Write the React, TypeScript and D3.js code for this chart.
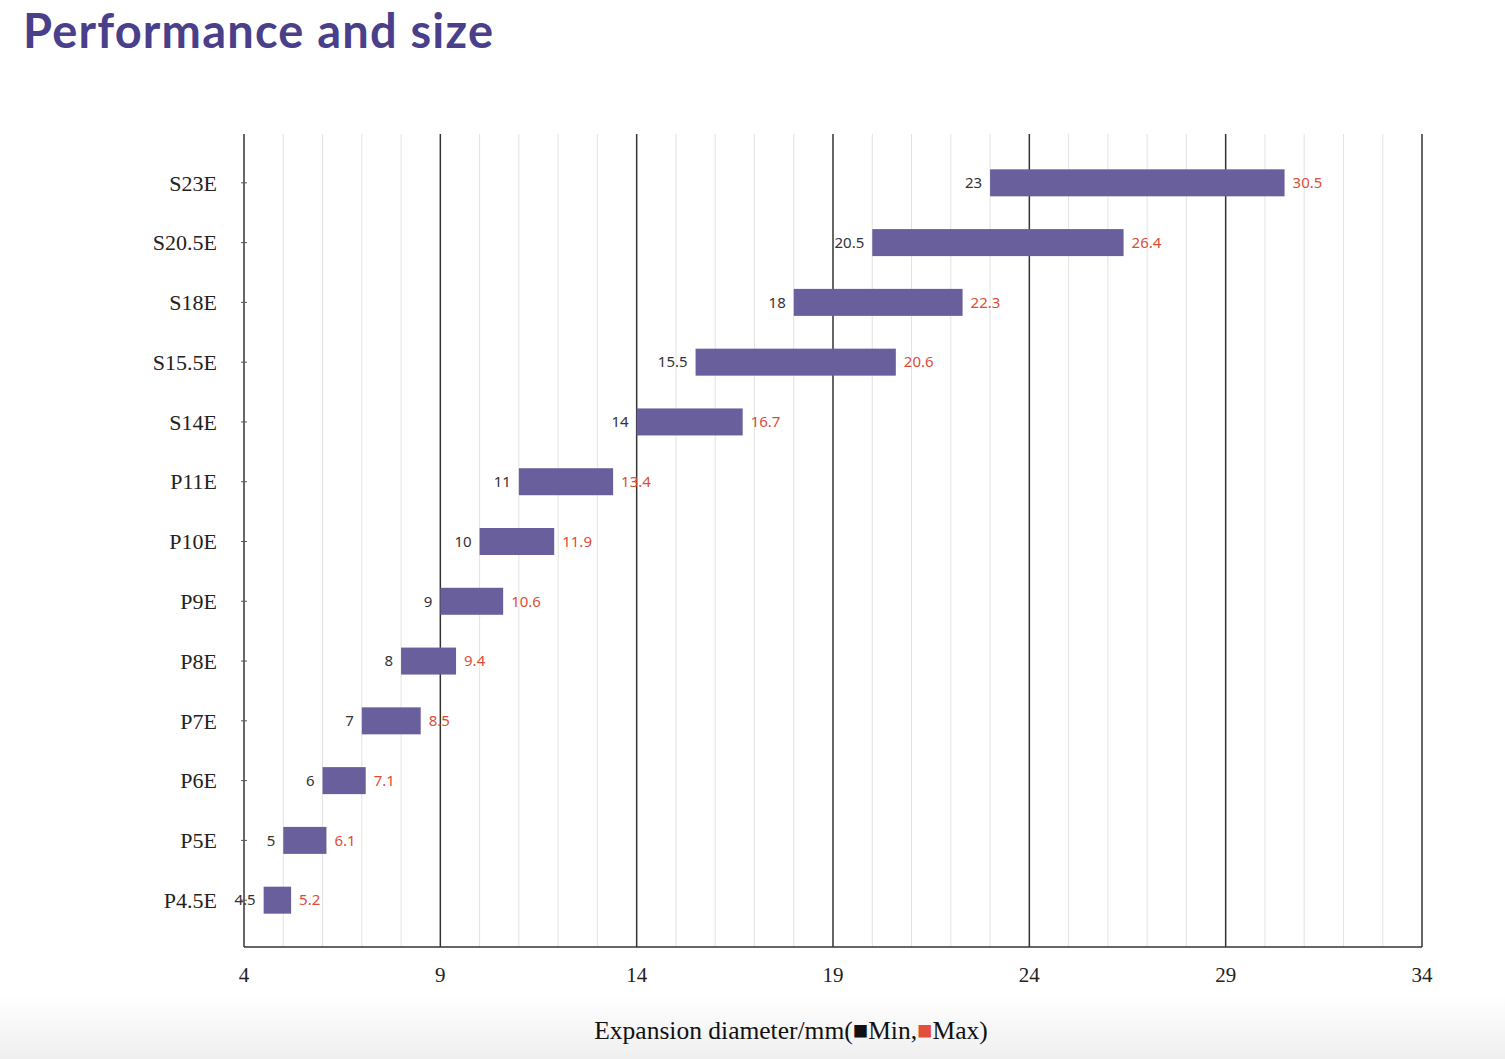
import * as d3 from "d3";
import React, { useEffect, useRef } from "react";

const categories = ["S23E", "S20.5E", "S18E", "S15.5E", "S14E", "P11E", "P10E", "P9E", "P8E", "P7E", "P6E", "P5E", "P4.5E"];
const minValues = [23, 20.5, 18, 15.5, 14, 11, 10, 9, 8, 7, 6, 5, 4.5];
const maxValues = [30.5, 26.4, 22.3, 20.6, 16.7, 13.4, 11.9, 10.6, 9.4, 8.5, 7.1, 6.1, 5.2];
// where each bar actually starts in the picture (S20.5E bar begins at 20)
const barStarts = [23, 20, 18, 15.5, 14, 11, 10, 9, 8, 7, 6, 5, 4.5];
const majorTicks = [4, 9, 14, 19, 24, 29, 34];

const App: React.FC = () => {
  const ref = useRef<SVGSVGElement>(null);

  useEffect(() => {
    document.body.style.margin = "0";
    const width = 1505;
    const height = 1059;
    const left = 244;
    const right = 1422;
    const top = 134;
    const bottom = 947;

    const svg = d3.select(ref.current);
    svg.selectAll("*").remove();

    const defs = svg.append("defs");
    const grad = defs
      .append("linearGradient")
      .attr("id", "bg")
      .attr("x1", 0)
      .attr("y1", 0)
      .attr("x2", 0)
      .attr("y2", 1);
    grad.append("stop").attr("offset", "0%").attr("stop-color", "#ffffff");
    grad.append("stop").attr("offset", "100%").attr("stop-color", "#efefef");

    svg.append("rect").attr("width", width).attr("height", height).attr("fill", "#fff");
    svg
      .append("rect")
      .attr("y", 995)
      .attr("width", width)
      .attr("height", height - 995)
      .attr("fill", "url(#bg)");

    // title
    svg
      .append("text")
      .text("Performance and size")
      .attr("x", 23)
      .attr("y", 48)
      .attr("textLength", 470)
      .attr("font-family", "Lato, 'Open Sans', sans-serif")
      .attr("font-weight", 700)
      .attr("font-size", "47px")
      .attr("fill", "#4a3f8a");

    const x = d3.scaleLinear().domain([4, 34]).range([left, right]);
    const y = d3.scalePoint<string>().domain(categories).range([top + 1, bottom + 1]).padding(0.8);

    // minor grid
    const minor = d3.range(5, 34).filter((v) => !majorTicks.includes(v));
    svg
      .append("g")
      .selectAll("line")
      .data(minor)
      .join("line")
      .attr("x1", (d) => x(d))
      .attr("x2", (d) => x(d))
      .attr("y1", top)
      .attr("y2", bottom)
      .attr("stroke", "#e3e3e3")
      .attr("stroke-width", 1);

    // major grid
    svg
      .append("g")
      .selectAll("line")
      .data(majorTicks.slice(1))
      .join("line")
      .attr("x1", (d) => x(d))
      .attr("x2", (d) => x(d))
      .attr("y1", top)
      .attr("y2", bottom)
      .attr("stroke", "#333")
      .attr("stroke-width", 1.5);

    // axes
    svg
      .append("line")
      .attr("x1", left)
      .attr("x2", left)
      .attr("y1", top)
      .attr("y2", bottom)
      .attr("stroke", "#333")
      .attr("stroke-width", 1.5);
    svg
      .append("line")
      .attr("x1", left)
      .attr("x2", right)
      .attr("y1", bottom)
      .attr("y2", bottom)
      .attr("stroke", "#333")
      .attr("stroke-width", 1.5);

    // y ticks
    svg
      .append("g")
      .selectAll("line")
      .data(categories)
      .join("line")
      .attr("x1", left - 3)
      .attr("x2", left + 3)
      .attr("y1", (d) => y(d)!)
      .attr("y2", (d) => y(d)!)
      .attr("stroke", "#555");

    svg
      .append("g")
      .selectAll("text")
      .data(categories)
      .join("text")
      .text((d) => d)
      .attr("x", 217)
      .attr("y", (d) => y(d)!)
      .attr("dy", "0.35em")
      .attr("text-anchor", "end")
      .attr("font-family", "'Liberation Serif', 'Times New Roman', serif")
      .attr("font-size", "22px")
      .attr("fill", "#222");

    svg
      .append("g")
      .selectAll("text")
      .data(majorTicks)
      .join("text")
      .text((d) => d)
      .attr("x", (d) => x(d))
      .attr("y", 982)
      .attr("text-anchor", "middle")
      .attr("font-family", "'Liberation Serif', 'Times New Roman', serif")
      .attr("font-size", "21px")
      .attr("fill", "#222");

    const rows = categories.map((c, i) => ({ c, lo: minValues[i], hi: maxValues[i], start: barStarts[i] }));
    const barH = 27;

    svg
      .append("g")
      .selectAll("rect")
      .data(rows)
      .join("rect")
      .attr("x", (d) => x(d.start))
      .attr("y", (d) => y(d.c)! - barH / 2)
      .attr("width", (d) => x(d.hi) - x(d.start))
      .attr("height", barH)
      .attr("fill", "#6a5f9d");

    svg
      .append("g")
      .selectAll("text")
      .data(rows)
      .join("text")
      .text((d) => d.lo)
      .attr("x", (d) => x(d.start) - 8)
      .attr("y", (d) => y(d.c)!)
      .attr("dy", "0.35em")
      .attr("text-anchor", "end")
      .attr("font-family", "'Noto Sans', sans-serif")
      .attr("font-size", "15px")
      .attr("fill", "#333");

    svg
      .append("g")
      .selectAll("text")
      .data(rows)
      .join("text")
      .text((d) => d.hi)
      .attr("x", (d) => x(d.hi) + 8)
      .attr("y", (d) => y(d.c)!)
      .attr("dy", "0.35em")
      .attr("text-anchor", "start")
      .attr("font-family", "'Noto Sans', sans-serif")
      .attr("font-size", "15px")
      .attr("fill", "#dc4c38");

    const title = svg
      .append("text")
      .attr("x", 791)
      .attr("y", 1039)
      .attr("text-anchor", "middle")
      .attr("font-family", "'Liberation Serif', 'Times New Roman', serif")
      .attr("font-size", "25.5px")
      .attr("fill", "#111");
    title.append("tspan").text("Expansion diameter/mm(");
    title.append("tspan").text("■").attr("fill", "#111");
    title.append("tspan").text("Min,");
    title.append("tspan").text("■").attr("fill", "#e0503c");
    title.append("tspan").text("Max)");
  }, []);

  return <svg ref={ref} width={1505} height={1059} style={{ display: "block" }} />;
};

export default App;
